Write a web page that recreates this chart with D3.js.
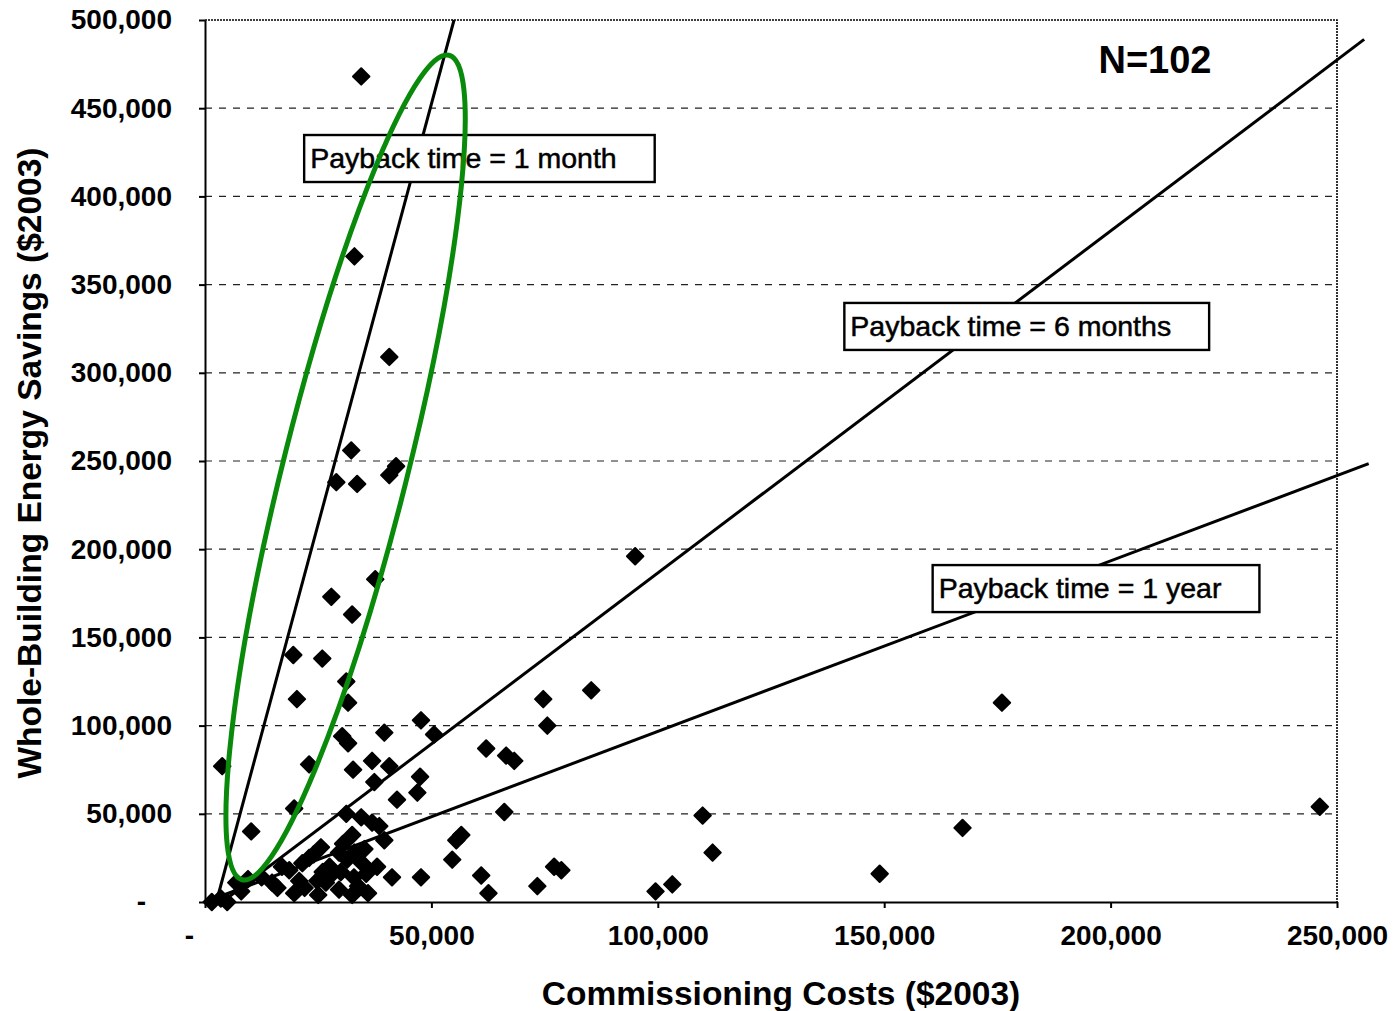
<!DOCTYPE html>
<html>
<head>
<meta charset="utf-8">
<script src="https://cdn.jsdelivr.net/npm/d3@7"></script>
<style>
body { margin: 0; background: #fff; }
svg { display: block; }
.axis text { font-family: "Liberation Sans", Arial, sans-serif; font-weight: bold; font-size: 28px; fill: #000; }
.axis path, .axis line { stroke: #000; stroke-width: 2; }
</style>
</head>
<body>
<script>
const w = 1393, h = 1011;
const plotLeft = 205, plotRight = 1337, plotTop = 20, plotBottom = 902;

// commissioning cost ($2003) and whole-building savings ($2003), one entry per building
const costs = [
    34500, 33000, 40700, 32300, 42200, 40700, 29000, 33600, 37600, 27900,
    32500, 19500, 25900, 31200, 31600, 20300, 47700, 30300, 31600, 39600,
    50600, 3800, 23000, 36900, 32700, 40700, 37400, 47500, 46900, 42400,
    10200, 19700, 31200, 34500, 36900, 38500, 32500, 39600, 25600, 23000,
    29600, 31400, 34700, 32900, 35600, 28100, 26700, 24800, 20800, 18600,
    17000, 14800, 19700, 29600, 32500, 6900, 3500, 4900, 1500, 41300,
    47700, 54600, 95000, 74700, 85300, 75600, 62100, 66500, 68300, 66100,
    109900, 112100, 56600, 55500, 61000, 62600, 73400, 77100, 78700, 99500,
    103200, 149000, 167300, 176000, 246200, 12500, 22000, 25000, 27500, 30000,
    33800, 35200, 30500, 21500, 16000, 8000, 33000, 36000, 26000, 38000,
    24000, 9500
];
const savings = [
    468000, 366000, 309000, 256000, 247000, 242000, 238000, 237000, 183000, 173000,
    163000, 140000, 138000, 125000, 113000, 115000, 103000, 94000, 90000, 96000,
    95000, 77000, 78000, 80000, 75000, 77000, 68000, 71000, 62000, 58000,
    40000, 53000, 50000, 48000, 45000, 43000, 38000, 35000, 31000, 25000,
    28000, 24000, 22000, 14000, 16000, 16000, 11000, 12000, 12000, 18000,
    20000, 11000, 5000, 7000, 4000, 11000, 2000, 0, 0, 14000,
    14000, 24000, 196000, 115000, 120000, 100000, 87000, 83000, 80000, 51000,
    49000, 28000, 38000, 35000, 15000, 5000, 9000, 20000, 18000, 6000,
    10000, 16000, 42000, 113000, 54000, 14000, 8000, 4000, 20000, 17000,
    9000, 30000, 33000, 22000, 8000, 6000, 28000, 5000, 17000, 20000,
    27000, 13000
];

const xTicks = [0, 50000, 100000, 150000, 200000, 250000];
const yTicks = [0, 50000, 100000, 150000, 200000, 250000, 300000, 350000, 400000, 450000, 500000];

const paybackLabels = ["Payback time = 1 month", "Payback time = 6 months", "Payback time = 1 year"];
const paybackStart = [[2500, 0], [3800, 0], [0, 0]];
const paybackEnd = [[55000, 500000], [256000, 489000], [257000, 248500]];
const labelAnchor = [[21900, 434800], [141200, 339600], [160700, 191000]];

const ellipseEnds = [[8200, 12600], [53900, 480000]];
const sampleLabel = "N=102";
const sampleAnchor = [209800, 470000];

const xTitle = "Commissioning Costs ($2003)";
const yTitle = "Whole-Building Energy Savings ($2003)";

const xScale = d3.scaleLinear().domain([0, 250000]).range([plotLeft, plotRight]);
const yScale = d3.scaleLinear().domain([0, 500000]).range([plotBottom, plotTop]);
const fmt = d3.format(",");

const svg = d3.select("body").append("svg")
    .attr("width", w)
    .attr("height", h);

// gridlines
svg.append("g")
    .selectAll("line")
    .data(yTicks.filter(t => t > 0 && t < 500000))
    .enter()
    .append("line")
    .attr("x1", xScale(0))
    .attr("x2", xScale(250000))
    .attr("y1", d => yScale(d))
    .attr("y2", d => yScale(d))
    .attr("stroke", "#222")
    .attr("stroke-width", 1.2)
    .attr("stroke-dasharray", "7,7");

// dotted top / right border
svg.append("path")
    .attr("d", "M" + xScale(0) + "," + yScale(500000) + "H" + xScale(250000) + "V" + yScale(0))
    .attr("fill", "none")
    .attr("stroke", "#000")
    .attr("stroke-width", 1.6)
    .attr("stroke-dasharray", "2,1");

// axes
const yAxis = svg.append("g")
    .attr("class", "axis")
    .attr("transform", "translate(" + plotLeft + ",0)")
    .call(d3.axisLeft(yScale)
        .tickValues(yTicks)
        .tickSize(6)
        .tickSizeOuter(0)
        .tickPadding(27)
        .tickFormat(d => d === 0 ? "-" : fmt(d)));
yAxis.selectAll(".tick text").filter(d => d === 0).attr("dx", -26);

const xAxis = svg.append("g")
    .attr("class", "axis")
    .attr("transform", "translate(0," + plotBottom + ")")
    .call(d3.axisBottom(xScale)
        .tickValues(xTicks)
        .tickSize(6)
        .tickSizeOuter(0)
        .tickPadding(17)
        .tickFormat(d => d === 0 ? "-" : fmt(d)));
xAxis.selectAll(".tick text").filter(d => d === 0).attr("dx", -16);

// payback lines
svg.append("g")
    .selectAll("line")
    .data(paybackLabels)
    .enter()
    .append("line")
    .attr("x1", (d, i) => xScale(paybackStart[i][0]))
    .attr("y1", (d, i) => yScale(paybackStart[i][1]))
    .attr("x2", (d, i) => xScale(paybackEnd[i][0]))
    .attr("y2", (d, i) => yScale(paybackEnd[i][1]))
    .attr("stroke", "#000")
    .attr("stroke-width", 3);

// points
svg.append("g")
    .selectAll("path")
    .data(costs)
    .enter()
    .append("path")
    .attr("d", d3.symbol().type(d3.symbolSquare).size(135))
    .attr("transform", (d, i) => "translate(" + xScale(d) + "," + yScale(savings[i]) + ") rotate(45)")
    .attr("fill", "#000")
    .attr("stroke", "#000")
    .attr("stroke-width", 2)
    .attr("stroke-linejoin", "round");

// label boxes
const boxes = svg.append("g")
    .selectAll("g")
    .data(paybackLabels)
    .enter()
    .append("g")
    .attr("transform", (d, i) => "translate(" + xScale(labelAnchor[i][0]) + "," + yScale(labelAnchor[i][1]) + ")");
const boxRects = boxes.append("rect")
    .attr("height", 47)
    .attr("fill", "#fff")
    .attr("stroke", "#000")
    .attr("stroke-width", 2.4);
const boxTexts = boxes.append("text")
    .attr("x", 6)
    .attr("y", 33)
    .attr("font-family", "'Liberation Sans', Arial, sans-serif")
    .attr("font-size", 28.5)
    .attr("stroke", "#000")
    .attr("stroke-width", 0.5)
    .text(d => d);
boxRects.attr("width", function(d, i) {
    return boxTexts.nodes()[i].getComputedTextLength() + 44;
});

// sample size
svg.append("text")
    .attr("x", xScale(sampleAnchor[0]))
    .attr("y", yScale(sampleAnchor[1]))
    .attr("text-anchor", "middle")
    .attr("font-family", "'Liberation Sans', Arial, sans-serif")
    .attr("font-weight", "bold")
    .attr("font-size", 38)
    .text(sampleLabel);

// highlight ellipse
const e0 = [xScale(ellipseEnds[0][0]), yScale(ellipseEnds[0][1])];
const e1 = [xScale(ellipseEnds[1][0]), yScale(ellipseEnds[1][1])];
const ecx = (e0[0] + e1[0]) / 2, ecy = (e0[1] + e1[1]) / 2;
const erx = Math.hypot(e1[0] - e0[0], e1[1] - e0[1]) / 2;
const eAngle = Math.atan2(e1[1] - e0[1], e1[0] - e0[0]) * 180 / Math.PI;
svg.append("ellipse")
    .attr("transform", "translate(" + ecx + "," + ecy + ") rotate(" + eAngle + ")")
    .attr("rx", erx)
    .attr("ry", 62)
    .attr("fill", "none")
    .attr("stroke", "#0a8a0a")
    .attr("stroke-width", 5);

// axis titles
svg.append("text")
    .attr("x", 781)
    .attr("y", 1005)
    .attr("text-anchor", "middle")
    .attr("font-family", "'Liberation Sans', Arial, sans-serif")
    .attr("font-weight", "bold")
    .attr("font-size", 33.5)
    .text(xTitle);

svg.append("text")
    .attr("transform", "translate(41,463) rotate(-90)")
    .attr("text-anchor", "middle")
    .attr("font-family", "'Liberation Sans', Arial, sans-serif")
    .attr("font-weight", "bold")
    .attr("font-size", 33.5)
    .text(yTitle);
</script>
</body>
</html>
